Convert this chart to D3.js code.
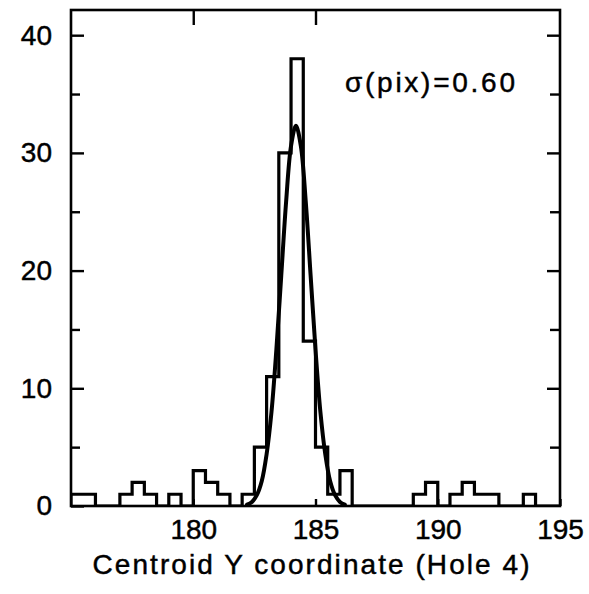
<!DOCTYPE html>
<html>
<head>
<meta charset="utf-8">
<script src="https://cdn.jsdelivr.net/npm/d3@7"></script>
<style>
  html, body { margin: 0; padding: 0; background: #fff; }
  svg { display: block; }
  text { font-family: "Liberation Sans", Arial, Helvetica, sans-serif; fill: #000; stroke: #000; stroke-width: 0.45px; }
</style>
</head>
<body>
<svg id="chart" width="589" height="594"></svg>
<script>
// ---- data ----
const binStart = 175;          // lower edge of first bin
const binWidth = 0.5;          // bin width (pix)
const counts = [1,1,0,0,1,2,1,0,1,0, 3,2,1,0,1,5,11,30,38,14, 5,1,3,0,0,0,0,0,1,2, 0,1,2,1,1,0,0,1,0,0];

// fitted gaussian curve
const fitX = [182.2,182.4,182.6,182.8,183.0,183.2,183.4,183.6,183.8,184.0,184.2,184.4,184.6,184.8,185.0,185.2,185.4,185.6,185.8,186.0,186.2];
const fitY = [0.12,0.35,0.92,2.1,4.4,8.0,13.3,19.6,25.9,30.6,32.3,30.6,25.9,19.6,13.3,8.0,4.4,2.1,0.92,0.35,0.12];

const xTicks = [180,185,190,195];
const xTopTicks = [180,185];
const yTicks = [0,10,20,30,40];
const yMinorTicks = [5,15,25,35];
const xDomain = [175,195];
const yDomain = [0,42.14];
const xTitle = "Centroid Y coordinate (Hole 4)";
const annotation = "σ(pix)=0.60";

// ---- layout ----
const L = 71, R = 560, T = 10, B = 506;
const svg = d3.select("#chart");
const x = d3.scaleLinear().domain(xDomain).range([L, R]);
const y = d3.scaleLinear().domain(yDomain).range([B, T]);

svg.append("defs").append("clipPath").attr("id","clip")
  .append("rect").attr("x",L).attr("y",T).attr("width",R-L).attr("height",B-T);

// histogram step outline
const pts = [[binStart,0]];
counts.forEach((c,i)=> pts.push([binStart + i*binWidth, c]));
pts.push([binStart + counts.length*binWidth, 0]);
const stepLine = d3.line().x(d=>x(d[0])).y(d=>y(d[1])).curve(d3.curveStepAfter);
svg.append("path")
  .attr("clip-path","url(#clip)")
  .attr("d", stepLine(pts))
  .attr("fill","none").attr("stroke","#000").attr("stroke-width",3.2)
  .attr("stroke-linejoin","miter");

// fit curve
const fitLine = d3.line().x((d,i)=>x(fitX[i])).y(d=>y(d)).curve(d3.curveCatmullRom);
svg.append("path")
  .attr("clip-path","url(#clip)")
  .attr("d", fitLine(fitY))
  .attr("fill","none").attr("stroke","#000").attr("stroke-width",4)
  .attr("stroke-linecap","round");

// axes
function styleAxis(g){
  g.select(".domain").remove();
  g.selectAll(".tick line").attr("stroke","#000").attr("stroke-width",2.4);
  g.selectAll(".tick text").attr("fill","#000")
    .style("font-family",'"Liberation Sans", Arial, Helvetica, sans-serif')
    .style("font-size","28px");
}
svg.append("g").attr("transform",`translate(0,${B})`)
  .call(d3.axisBottom(x).tickValues(xTicks).tickSizeInner(-7).tickSizeOuter(0).tickPadding(13).tickFormat(d3.format("d")))
  .call(styleAxis);
svg.append("g").attr("transform",`translate(0,${T})`)
  .call(d3.axisTop(x).tickValues(xTopTicks).tickSizeInner(-15).tickSizeOuter(0).tickFormat(""))
  .call(styleAxis);
svg.append("g").attr("transform",`translate(${L},0)`)
  .call(d3.axisLeft(y).tickValues(yTicks).tickSizeInner(-13).tickSizeOuter(0).tickPadding(19).tickFormat(d3.format("d")))
  .call(styleAxis);
svg.append("g").attr("transform",`translate(${L},0)`)
  .call(d3.axisLeft(y).tickValues(yMinorTicks).tickSizeInner(-9).tickSizeOuter(0).tickFormat(""))
  .call(styleAxis);
svg.append("g").attr("transform",`translate(${R},0)`)
  .call(d3.axisRight(y).tickValues(yTicks.filter(v=>v>0)).tickSizeInner(-13).tickSizeOuter(0).tickFormat(""))
  .call(styleAxis);
svg.append("g").attr("transform",`translate(${R},0)`)
  .call(d3.axisRight(y).tickValues(yMinorTicks).tickSizeInner(-10).tickSizeOuter(0).tickFormat(""))
  .call(styleAxis);

// frame
svg.append("rect").attr("x",L).attr("y",T).attr("width",R-L).attr("height",B-T)
  .attr("fill","none").attr("stroke","#000").attr("stroke-width",2.6);

// title
svg.append("text").attr("x",311).attr("y",574).attr("text-anchor","middle")
  .attr("textLength",437).attr("lengthAdjust","spacing")
  .style("font-size","28px").text(xTitle);

// annotation
svg.append("text").attr("x",345).attr("y",92)
  .attr("textLength",170).attr("lengthAdjust","spacing")
  .style("font-size","28px").text(annotation);
</script>
</body>
</html>
